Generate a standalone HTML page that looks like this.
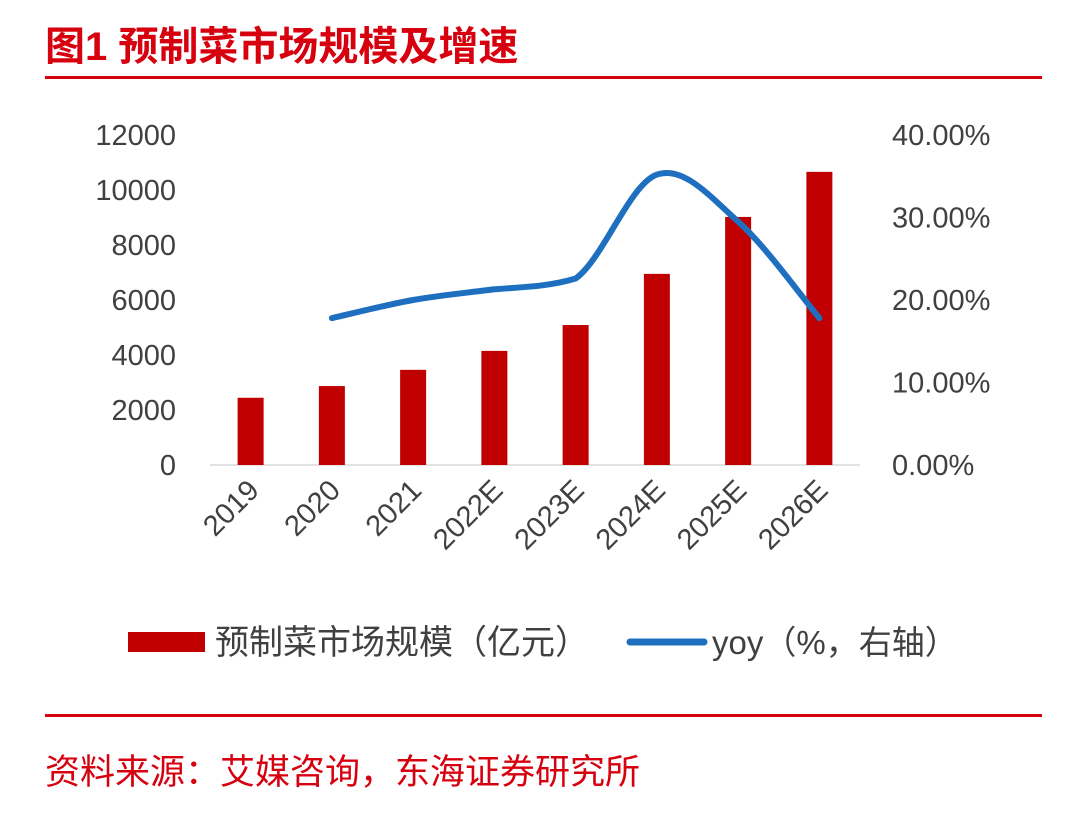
<!DOCTYPE html>
<html><head><meta charset="utf-8">
<style>
body{margin:0;background:#fff;width:1086px;height:828px;overflow:hidden;font-family:"Liberation Sans","Noto Sans CJK SC",sans-serif;}
</style></head>
<body>
<svg id="c" width="1086" height="828" xmlns="http://www.w3.org/2000/svg">
<text x="45" y="60" font-size="40" font-weight="bold" fill="#d7000f" font-family="Liberation Sans, Noto Sans CJK SC, sans-serif">图1  预制菜市场规模及增速</text>
<rect x="45" y="76" width="997" height="3" fill="#d7000f"/>
<rect x="45" y="714" width="997" height="3" fill="#d7000f"/>
<text x="45" y="784" font-size="35" fill="#d7000f" font-family="Liberation Sans, Noto Sans CJK SC, sans-serif">资料来源：艾媒咨询，东海证券研究所</text>
<g id="plot"></g>
<g>
<rect x="128" y="632" width="77" height="20" fill="#c00000"/>
<text x="215" y="654" font-size="34" fill="#404040" font-family="Liberation Sans, Noto Sans CJK SC, sans-serif">预制菜市场规模（亿元）</text>
<line x1="630" y1="642" x2="704" y2="642" stroke="#1f6fc0" stroke-width="7" stroke-linecap="round"/>
<text x="712" y="654" font-size="33" fill="#404040" font-family="Liberation Sans, Noto Sans CJK SC, sans-serif">yoy（%，右轴）</text>
</g>
</svg>
<script>
const categories=["2019","2020","2021","2022E","2023E","2024E","2025E","2026E"];
const marketSize=[2445,2870,3460,4150,5090,6950,9020,10660];
const yoy=[null,17.8,20.0,21.3,22.6,35.2,29.5,17.8];
const leftTicks=[0,2000,4000,6000,8000,10000,12000];
const rightTicks=[0,10,20,30,40];
const NS="http://www.w3.org/2000/svg";
const g=document.getElementById('plot');
const x0=210,x1=860,yb=465,yt=135;
const bw=(x1-x0)/categories.length;
const xc=i=>x0+bw*(i+0.5);
const yL=v=>yb-(v/12000)*(yb-yt);
const yR=v=>yb-(v/40)*(yb-yt);
function el(t,a){const e=document.createElementNS(NS,t);for(const k in a)e.setAttribute(k,a[k]);g.appendChild(e);return e;}
const ff="Liberation Sans, Noto Sans CJK SC, sans-serif";
leftTicks.forEach(v=>{const t=el('text',{x:176,y:yL(v)+10,'font-size':29,fill:'#404040','text-anchor':'end','font-family':ff});t.textContent=v;

});
rightTicks.forEach(v=>{const t=el('text',{x:892,y:yR(v)+10,'font-size':29,fill:'#404040','font-family':ff});t.textContent=v.toFixed(2)+'%';

});
const ax=el('line',{x1:x0,y1:yb,x2:x1,y2:yb,stroke:'#d9d9d9','stroke-width':1.5});


marketSize.forEach((v,i)=>{const r=el('rect',{x:xc(i)-13,y:yL(v),width:26,height:yb-yL(v),fill:'#c00000'});

});
categories.forEach((c,i)=>{const t=el('text',{x:0,y:0,'font-size':29,fill:'#404040','text-anchor':'end','font-family':ff,transform:`translate(${xc(i)+10},${yb+27}) rotate(-45)`});t.textContent=c;

});
const pts=[];yoy.forEach((v,i)=>{if(v!=null)pts.push([xc(i),yR(v)]);});
let d='M'+pts[0][0]+','+pts[0][1];
for(let i=0;i<pts.length-1;i++){const p0=pts[Math.max(0,i-1)],p1=pts[i],p2=pts[i+1],p3=pts[Math.min(pts.length-1,i+2)];
const k=(i===2)?10:6;
const c1=[p1[0]+(p2[0]-p0[0])/6,p1[1]+(p2[1]-p0[1])/k],c2=[p2[0]-(p3[0]-p1[0])/6,p2[1]-(p3[1]-p1[1])/((i===2)?14:6)];
d+=` C${c1[0]},${c1[1]} ${c2[0]},${c2[1]} ${p2[0]},${p2[1]}`;}
const ln=el('path',{d:d,fill:'none',stroke:'#1f6fc0','stroke-width':6,'stroke-linecap':'round'});


</script>
</body></html>
